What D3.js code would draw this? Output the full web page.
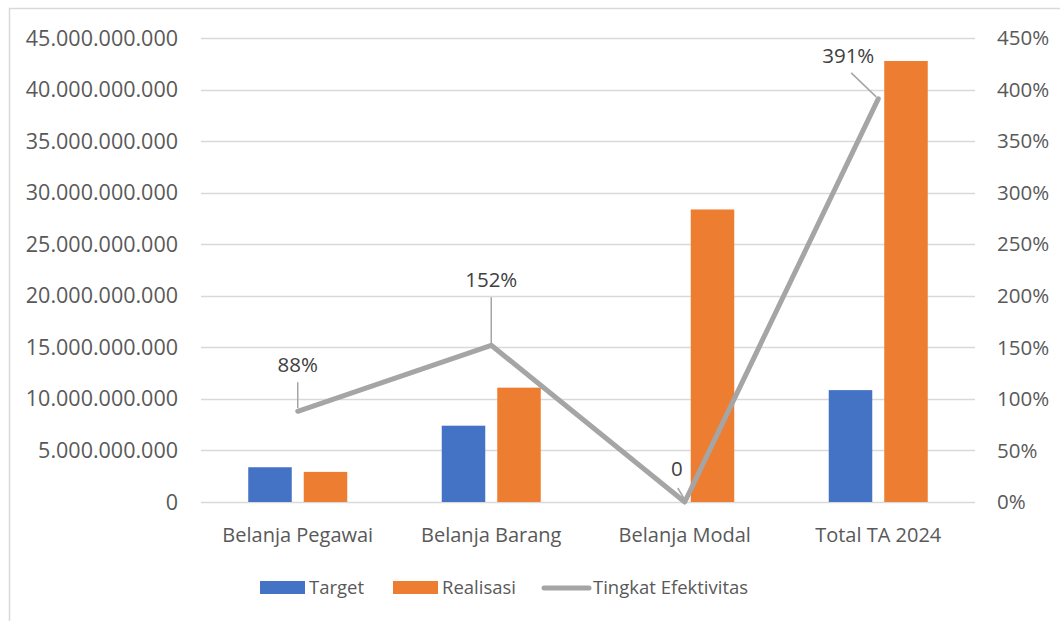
<!DOCTYPE html>
<html>
<head>
<meta charset="utf-8">
<script src="https://cdn.jsdelivr.net/npm/d3@7"></script>
<style>
  body { margin: 0; background: #fff; }
  svg { display: block; font-family: "Open Sans", sans-serif; }
</style>
</head>
<body>
<svg width="1060" height="621"></svg>
<script>
// data
let categories = ["Belanja Pegawai", "Belanja Barang", "Belanja Modal", "Total TA 2024"];
let target = [3.37e9, 7.40e9, 0, 10.85e9];
let realisasi = [2.92e9, 11.09e9, 28.37e9, 42.77e9];
let efektivitas = [0.88, 1.52, 0, 3.91];
let efLabels = ["88%", "152%", "0", "391%"];
let leftTicks = [0, 5e9, 10e9, 15e9, 20e9, 25e9, 30e9, 35e9, 40e9, 45e9];
let rightTicks = [0, 0.5, 1, 1.5, 2, 2.5, 3, 3.5, 4, 4.5];

const blue = "#4472C4", orange = "#ED7D31", grey = "#A5A5A5";

let svg = d3.select("svg");
const id = d3.formatLocale({decimal: ",", thousands: ".", grouping: [3], currency: ["Rp", ""]});
const fmt = id.format(",.0f");

// chart border (only top and left show in the crop)
svg.append("path").attr("d", "M9.5,621 V8.5 H1060")
    .attr("fill", "none").attr("stroke", "#D9D9D9").attr("stroke-width", 1.5);

let x = d3.scaleBand(categories, [201, 975]);
let xs = d3.scaleBand(["t", "r"], [-49.5, 49.5]).paddingInner(0.216);
let y = d3.scaleLinear([0, 45e9], [502, 38]);
let yr = d3.scaleLinear([0, 4.5], [502, 38]);

// gridlines
svg.append("g").selectAll("line").data(leftTicks).join("line")
    .attr("x1", 201).attr("x2", 975)
    .attr("y1", d => Math.round(y(d)) + 0.5).attr("y2", d => Math.round(y(d)) + 0.5)
    .attr("stroke", "#D9D9D9").attr("stroke-width", 1.5);

// left axis labels
svg.append("g").selectAll("text").data(leftTicks).join("text")
    .attr("x", 178).attr("y", d => y(d)).attr("dy", "0.35em")
    .attr("text-anchor", "end").attr("font-size", 21.5).attr("fill", "#595959")
    .text(d => fmt(d));

// right axis labels
svg.append("g").selectAll("text").data(rightTicks).join("text")
    .attr("x", 997).attr("y", d => yr(d)).attr("dy", "0.35em")
    .attr("text-anchor", "start").attr("font-size", 20.5).attr("fill", "#595959")
    .text(d => Math.round(d * 100) + "%");

// category labels
svg.append("g").selectAll("text").data(categories).join("text")
    .attr("x", d => x(d) + x.bandwidth() / 2).attr("y", 535).attr("dy", "0.35em")
    .attr("text-anchor", "middle").attr("font-size", 20).attr("fill", "#595959")
    .text(d => d);

// bars
let bars = svg.append("g");
categories.forEach((c, i) => {
    let cx = x(c) + x.bandwidth() / 2;
    [["t", target[i], blue], ["r", realisasi[i], orange]].forEach(([k, v, col]) => {
        if (v <= 0) return;
        bars.append("rect")
            .attr("x", cx + xs(k)).attr("width", xs.bandwidth())
            .attr("y", y(v)).attr("height", y(0) - y(v))
            .attr("fill", col);
    });
});

// line
let pts = categories.map((c, i) => [x(c) + x.bandwidth() / 2, yr(efektivitas[i])]);
svg.append("path").attr("d", d3.line()(pts))
    .attr("fill", "none").attr("stroke", grey).attr("stroke-width", 5)
    .attr("stroke-linejoin", "round").attr("stroke-linecap", "round");

// data labels with leader lines (offsets relative to point)
let lab = [
    {dx: 0, dy: -46, lead: [[0, -29], [0, -3]]},
    {dx: 0, dy: -65, lead: [[0, -48], [0, -2]]},
    {dx: -8, dy: -33, lead: [[-7, -14], [-1, -4]]},
    {dx: -30, dy: -43, lead: [[-27, -26], [-2, -2]]}
];
let lg = svg.append("g");
pts.forEach((p, i) => {
    let l = lab[i];
    lg.append("line")
        .attr("x1", p[0] + l.lead[0][0]).attr("y1", p[1] + l.lead[0][1])
        .attr("x2", p[0] + l.lead[1][0]).attr("y2", p[1] + l.lead[1][1])
        .attr("stroke", grey).attr("stroke-width", 1.5);
    lg.append("text")
        .attr("x", p[0] + l.dx).attr("y", p[1] + l.dy).attr("dy", "0.35em")
        .attr("text-anchor", "middle").attr("font-size", 20.5).attr("fill", "#404040")
        .text(efLabels[i]);
});

// legend
let leg = svg.append("g").attr("font-size", 18.5).attr("fill", "#595959");
leg.append("rect").attr("x", 260).attr("y", 581).attr("width", 45).attr("height", 13).attr("fill", blue);
leg.append("text").attr("x", 309).attr("y", 588).attr("dy", "0.35em").text("Target");
leg.append("rect").attr("x", 393).attr("y", 581).attr("width", 45).attr("height", 13).attr("fill", orange);
leg.append("text").attr("x", 442).attr("y", 588).attr("dy", "0.35em").text("Realisasi");
leg.append("line").attr("x1", 544).attr("x2", 589).attr("y1", 588).attr("y2", 588)
    .attr("stroke", grey).attr("stroke-width", 5).attr("stroke-linecap", "round");
leg.append("text").attr("x", 593).attr("y", 588).attr("dy", "0.35em").text("Tingkat Efektivitas");
</script>
</body>
</html>
